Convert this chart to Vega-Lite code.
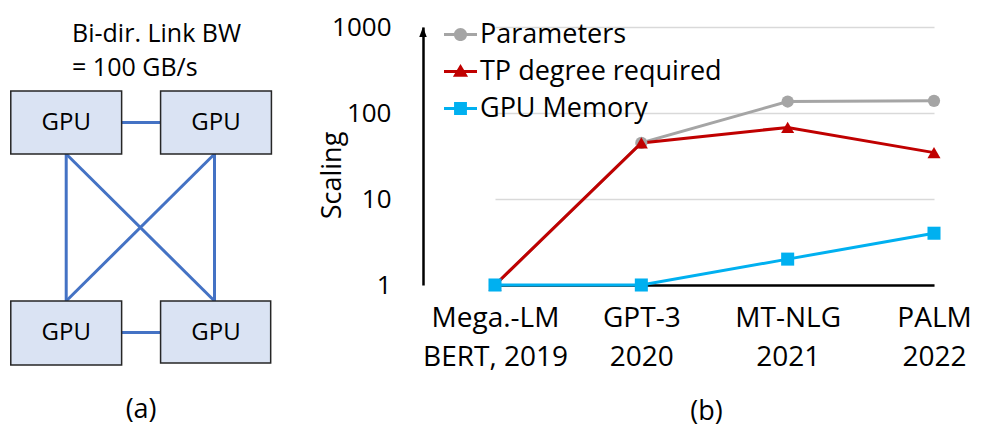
{
  "$schema": "https://vega.github.io/schema/vega-lite/v6.json",
  "padding": {"left": 0, "top": 14, "right": 0, "bottom": 0},
  "autosize": {"type": "pad"},
  "bounds": "flush",
  "spacing": 133,
  "config": {
    "view": {"stroke": null},
    "font": "Open Sans",
    "text": {"font": "Open Sans", "color": "#000000"}
  },
  "hconcat": [
    {
      "width": 290,
      "height": 400,
      "layer": [
        {
          "data": {"values": [
            {"x": 0.37, "y": 0, "x2": 0.63, "y2": 0},
            {"x": 0.37, "y": 1, "x2": 0.63, "y2": 1},
            {"x": 0, "y": 0.15, "x2": 0, "y2": 0.85},
            {"x": 0.99, "y": 0.15, "x2": 0.99, "y2": 0.85},
            {"x": 0, "y": 0.15, "x2": 0.99, "y2": 0.85},
            {"x": 0.99, "y": 0.15, "x2": 0, "y2": 0.85}
          ]},
          "mark": {"type": "rule", "color": "#4472C4", "strokeWidth": 3},
          "encoding": {
            "x": {"field": "x", "type": "quantitative", "scale": {"domain": [-0.442, 1.494], "nice": false, "zero": false}, "axis": null},
            "y": {"field": "y", "type": "quantitative", "scale": {"domain": [-0.4548, 1.45], "nice": false, "zero": false, "reverse": true}, "axis": null},
            "x2": {"field": "x2"},
            "y2": {"field": "y2"}
          }
        },
        {
          "data": {"values": [
            {"x": -0.37, "x2": 0.37, "y": -0.15, "y2": 0.15, "cx": 0, "cy": 0, "label": "GPU"},
            {"x": 0.63, "x2": 1.37, "y": -0.15, "y2": 0.15, "cx": 1, "cy": 0, "label": "GPU"},
            {"x": -0.37, "x2": 0.37, "y": 0.85, "y2": 1.155, "cx": 0, "cy": 1.0, "label": "GPU"},
            {"x": 0.63, "x2": 1.365, "y": 0.85, "y2": 1.145, "cx": 1, "cy": 1.0, "label": "GPU"}
          ]},
          "layer": [
            {
              "mark": {"type": "rect", "fill": "#DAE3F3", "stroke": "#262626", "strokeWidth": 1.5},
              "encoding": {
                "x": {"field": "x", "type": "quantitative", "scale": {"domain": [-0.442, 1.494], "nice": false, "zero": false}, "axis": null},
                "y": {"field": "y", "type": "quantitative", "scale": {"domain": [-0.4548, 1.45], "nice": false, "zero": false, "reverse": true}, "axis": null},
                "x2": {"field": "x2"},
                "y2": {"field": "y2"}
              }
            },
            {
              "mark": {"type": "text", "fontSize": 24, "align": "center", "baseline": "middle"},
              "encoding": {
                "x": {"field": "cx", "type": "quantitative"},
                "y": {"field": "cy", "type": "quantitative"},
                "text": {"field": "label"}
              }
            }
          ]
        },
        {
          "data": {"values": [
            {"x": 0.039, "y": -0.385, "text": "Bi-dir. Link BW"},
            {"x": 0.039, "y": -0.221, "text": "= 100 GB/s"}
          ]},
          "mark": {"type": "text", "fontSize": 25, "align": "left", "baseline": "alphabetic"},
          "encoding": {
            "x": {"field": "x", "type": "quantitative"},
            "y": {"field": "y", "type": "quantitative"},
            "text": {"field": "text"}
          }
        },
        {
          "data": {"values": [{"x": 0.5, "y": 1.405, "text": "(a)"}]},
          "mark": {"type": "text", "fontSize": 27, "align": "center", "baseline": "alphabetic"},
          "encoding": {
            "x": {"field": "x", "type": "quantitative"},
            "y": {"field": "y", "type": "quantitative"},
            "text": {"field": "text"}
          }
        }
      ]
    },
    {
      "width": 575,
      "height": 258,
      "data": {"values": [
        {"model": "Mega.-LM|BERT, 2019", "series": "Parameters", "value": 1},
        {"model": "GPT-3|2020", "series": "Parameters", "value": 44.9},
        {"model": "MT-NLG|2021", "series": "Parameters", "value": 136},
        {"model": "PALM|2022", "series": "Parameters", "value": 138.5},
        {"model": "Mega.-LM|BERT, 2019", "series": "TP degree required", "value": 1},
        {"model": "GPT-3|2020", "series": "TP degree required", "value": 44.9},
        {"model": "MT-NLG|2021", "series": "TP degree required", "value": 68},
        {"model": "PALM|2022", "series": "TP degree required", "value": 34.6},
        {"model": "Mega.-LM|BERT, 2019", "series": "GPU Memory", "value": 1},
        {"model": "GPT-3|2020", "series": "GPU Memory", "value": 1},
        {"model": "MT-NLG|2021", "series": "GPU Memory", "value": 2},
        {"model": "PALM|2022", "series": "GPU Memory", "value": 4}
      ]},
      "layer": [
        {
          "encoding": {
            "x": {
              "field": "model", "type": "nominal", "sort": null,
              "scale": {"type": "point", "range": [72, 511], "padding": 0},
              "axis": {
                "title": "(b)", "titleFont": "Open Sans", "titleFontSize": 27, "titleFontWeight": "normal", "titleColor": "#000000",
                "titleBaseline": "alphabetic", "titleY": 134, "titleX": 283,
                "labelAngle": 0, "labelExpr": "split(datum.label, '|')",
                "labelFont": "Open Sans", "labelFontSize": 28, "labelColor": "#000000",
                "labelBaseline": "alphabetic", "labelLineHeight": 38.5, "labelPadding": 41.5, "labelLimit": 0,
                "ticks": false, "tickSize": 0, "grid": false,
                "domainColor": "#000000", "domainWidth": 2.5
              }
            },
            "y": {
              "field": "value", "type": "quantitative",
              "scale": {"type": "log", "domain": [1, 1000], "nice": false},
              "axis": {
                "title": "Scaling", "titleFont": "Open Sans", "titleFontSize": 27, "titleFontWeight": "normal", "titleColor": "#000000",
                "titleAngle": -90, "titleBaseline": "alphabetic", "titleAlign": "center", "titleX": -83, "titleY": 148,
                "values": [1, 10, 100, 1000], "format": "d",
                "labelFont": "Open Sans", "labelFontSize": 26, "labelColor": "#000000", "labelPadding": 32,
                "ticks": false, "tickSize": 0,
                "grid": true, "gridColor": "#D9D9D9", "gridWidth": 1.5,
                "domainColor": "#000000", "domainWidth": 2.5
              }
            }
          },
          "layer": [
            {"transform": [{"filter": {"field": "series", "equal": "Parameters"}}], "mark": {"type": "line", "strokeWidth": 3, "color": "#A5A5A5"}},
            {"transform": [{"filter": {"field": "series", "equal": "TP degree required"}}], "mark": {"type": "line", "strokeWidth": 3, "color": "#C00000"}},
            {"transform": [{"filter": {"field": "series", "equal": "GPU Memory"}}], "mark": {"type": "line", "strokeWidth": 3, "color": "#00B0F0"}},
            {"transform": [{"filter": {"field": "series", "equal": "Parameters"}}], "mark": {"type": "point", "shape": "circle", "filled": true, "opacity": 1, "size": 150, "color": "#A5A5A5"}},
            {"transform": [{"filter": {"field": "series", "equal": "TP degree required"}}], "mark": {"type": "point", "shape": "triangle-up", "filled": true, "opacity": 1, "size": 170, "color": "#C00000"}},
            {"transform": [{"filter": {"field": "series", "equal": "GPU Memory"}}], "mark": {"type": "point", "shape": "square", "filled": true, "opacity": 1, "size": 170, "color": "#00B0F0"}},
            {
              "mark": {"type": "point", "filled": true, "opacity": 0},
              "encoding": {
                "color": {
                  "field": "series", "type": "nominal",
                  "scale": {"domain": ["Parameters", "TP degree required", "GPU Memory"], "range": ["#A5A5A5", "#C00000", "#00B0F0"]},
                  "legend": {
                    "title": null, "orient": "none", "legendX": 444, "legendY": -9,
                    "labelFont": "Open Sans", "labelFontSize": 27, "labelColor": "#000000", "labelOffset": 3, "labelLimit": 0,
                    "symbolSize": 1089, "symbolOpacity": 1, "symbolStrokeWidth": 0, "rowPadding": 7, "padding": 0
                  }
                },
                "shape": {
                  "field": "series", "type": "nominal",
                  "scale": {
                    "domain": ["Parameters", "TP degree required", "GPU Memory"],
                    "range": [
                      "M-1,-0.09H1V0.09H-1ZM-0.4,0A0.4,0.4,0,1,1,0.4,0A0.4,0.4,0,1,1,-0.4,0Z",
                      "M-1,-0.09H1V0.09H-1ZM0,-0.46L0.46,0.32L-0.46,0.32Z",
                      "M-1,-0.09H1V0.09H-1ZM-0.39,-0.39H0.39V0.39H-0.39Z"
                    ]
                  },
                  "legend": {
                    "title": null, "orient": "none", "legendX": 444, "legendY": -9,
                    "labelFont": "Open Sans", "labelFontSize": 27, "labelColor": "#000000", "labelOffset": 3, "labelLimit": 0,
                    "symbolSize": 1089, "symbolOpacity": 1, "symbolStrokeWidth": 0, "rowPadding": 7, "padding": 0
                  }
                }
              }
            }
          ]
        },
        {
          "transform": [{"aggregate": [{"op": "count", "as": "n"}]}],
          "mark": {"type": "point", "shape": "M0,0L0.45,1.2L-0.45,1.2Z", "filled": true, "color": "#000000", "opacity": 1, "size": 276},
          "encoding": {
            "x": {"datum": 0, "type": "quantitative", "scale": {"domain": [0, 1], "nice": false}, "axis": null},
            "y": {"datum": 1000, "type": "quantitative"}
          }
        }
      ],
      "resolve": {"scale": {"x": "independent"}}
    }
  ]
}
